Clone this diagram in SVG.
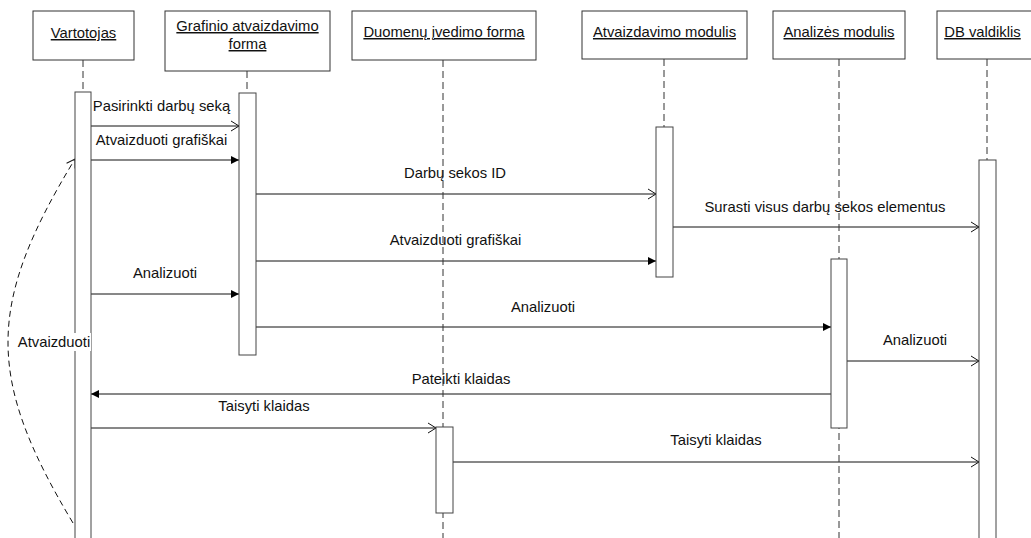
<svg xmlns="http://www.w3.org/2000/svg" width="1031" height="538" viewBox="0 0 1031 538">
  <style>
    text { font-family: "Liberation Sans", Arial, sans-serif; font-size: 14.8px; fill: #111; }
    .head text { text-anchor: middle; text-decoration: underline; }
    .box { fill: #fff; stroke: #333; stroke-width: 1; }
    .life { stroke: #333; stroke-width: 1; stroke-dasharray: 7 4; fill: none; }
    .act { fill: #fff; stroke: #444; stroke-width: 1; }
    .msg { stroke: #111; stroke-width: 1; fill: none; }
    .open { marker-end: url(#openHead); }
    .solid { marker-end: url(#solidHead); }
    .lbl { text-anchor: middle; }
  </style>
  <defs>
    <marker id="openHead" viewBox="-10 -6 12 12" refX="0" refY="0" markerWidth="12" markerHeight="12" markerUnits="userSpaceOnUse" orient="auto">
      <path d="M-8,-5 L0,0 L-8,5" fill="none" stroke="#111" stroke-width="1"/>
    </marker>
    <marker id="solidHead" viewBox="-10 -6 12 12" refX="0" refY="0" markerWidth="12" markerHeight="12" markerUnits="userSpaceOnUse" orient="auto">
      <path d="M-8,-4 L0,0 L-8,4 Z" fill="#000" stroke="none"/>
    </marker>
  </defs>

  <rect width="1031" height="538" fill="#fff"/>

  <!-- messages between lifelines -->
  <g id="connectors">
    <line class="msg open" x1="83" y1="126" x2="239" y2="126"/>
    <text class="lbl" x="161.5" y="111">Pasirinkti darbų seką</text>

    <line class="msg solid" x1="83" y1="160" x2="239" y2="160"/>
    <text class="lbl" x="161.5" y="145">Atvaizduoti grafiškai</text>

    <line class="msg open" x1="256" y1="194" x2="656" y2="194"/>
    <text class="lbl" x="455" y="178">Darbų sekos ID</text>

    <line class="msg open" x1="673" y1="227" x2="979" y2="227"/>
    <text class="lbl" x="825" y="212">Surasti visus darbų sekos elementus</text>

    <line class="msg solid" x1="256" y1="261" x2="656" y2="261"/>
    <text class="lbl" x="455.5" y="245">Atvaizduoti grafiškai</text>

    <line class="msg solid" x1="91" y1="294" x2="239" y2="294"/>
    <text class="lbl" x="165" y="278">Analizuoti</text>

    <line class="msg solid" x1="256" y1="327" x2="831" y2="327"/>
    <text class="lbl" x="543" y="312">Analizuoti</text>

    <line class="msg open" x1="847" y1="361" x2="979" y2="361"/>
    <text class="lbl" x="915" y="345">Analizuoti</text>

    <line class="msg solid" x1="831" y1="394" x2="91" y2="394"/>
    <text class="lbl" x="461" y="384">Pateikti klaidas</text>

    <line class="msg open" x1="91" y1="428" x2="436" y2="428"/>
    <text class="lbl" x="264" y="411">Taisyti klaidas</text>

    <line class="msg open" x1="453" y1="462" x2="979" y2="462"/>
    <text class="lbl" x="716" y="445">Taisyti klaidas</text>

    <!-- self return to the user -->
    <path class="msg open" d="M73,523 C-14,378 -14,305 75,159" stroke-dasharray="6 4"/>
  </g>

  <!-- lifelines with their activation bars -->
  <g id="vartotojas" class="head">
    <rect class="box" x="33" y="11" width="101" height="49"/>
    <text x="83.5" y="38">Vartotojas</text>
    <line class="life" x1="83" y1="60" x2="83" y2="92"/>
    <rect class="act" x="75" y="92" width="16" height="460"/>
  </g>

  <g id="grafinio-forma" class="head">
    <rect class="box" x="165" y="11" width="165" height="60"/>
    <text x="247.5" y="31">Grafinio atvaizdavimo</text>
    <text x="247.5" y="49">forma</text>
    <line class="life" x1="247" y1="71" x2="247" y2="93"/>
    <rect class="act" x="239" y="93" width="17" height="262"/>
  </g>

  <g id="duomenu-forma" class="head">
    <rect class="box" x="352" y="11" width="184" height="49"/>
    <text x="444" y="37">Duomenų įvedimo forma</text>
    <line class="life" x1="443" y1="60" x2="443" y2="538"/>
    <rect class="act" x="436" y="427" width="17" height="86"/>
  </g>

  <g id="atvaizdavimo-modulis" class="head">
    <rect class="box" x="582" y="11" width="165" height="48"/>
    <text x="664.5" y="37">Atvaizdavimo modulis</text>
    <line class="life" x1="664" y1="59" x2="664" y2="127"/>
    <rect class="act" x="656" y="127" width="17" height="150"/>
  </g>

  <g id="analizes-modulis" class="head">
    <rect class="box" x="773" y="11" width="132" height="48"/>
    <text x="839" y="37">Analizės modulis</text>
    <line class="life" x1="839" y1="59" x2="839" y2="538"/>
    <rect class="act" x="831" y="259" width="16" height="169"/>
  </g>

  <g id="db-valdiklis" class="head">
    <rect class="box" x="937" y="11" width="100" height="48"/>
    <text x="982.5" y="37">DB valdiklis</text>
    <line class="life" x1="987" y1="59" x2="987" y2="160"/>
    <rect class="act" x="979" y="160" width="17" height="400"/>
  </g>

  <!-- label of the dashed return, on a white patch -->
  <g id="return-label">
    <rect x="17" y="333" width="74" height="18" fill="#fff"/>
    <text x="54" y="347" text-anchor="middle">Atvaizduoti</text>
  </g>
</svg>
